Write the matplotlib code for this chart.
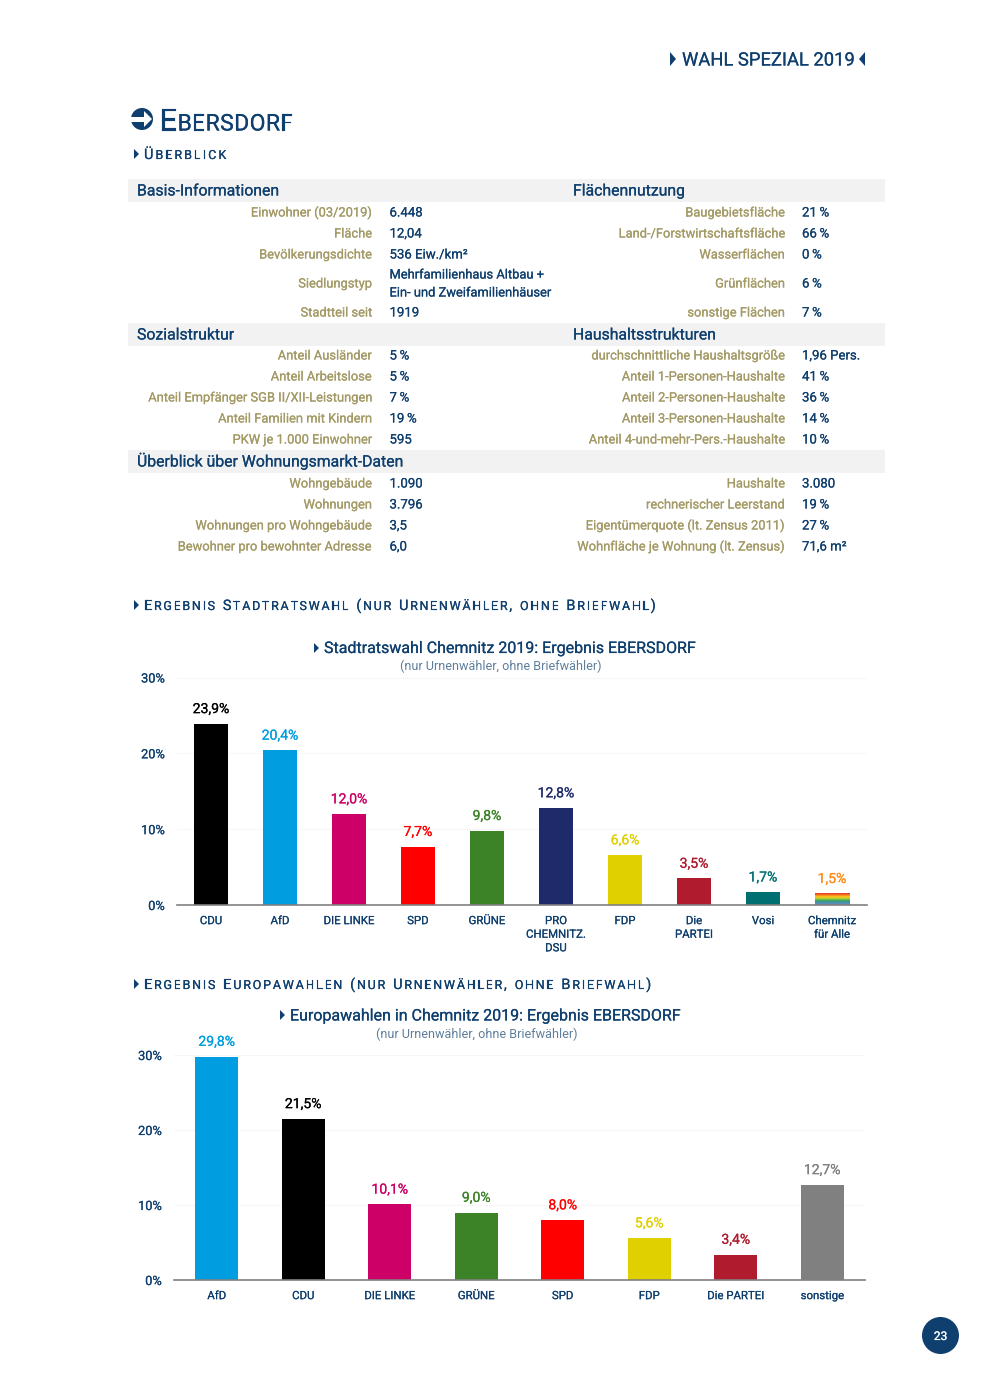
import numpy as np
import matplotlib
matplotlib.use("Agg")
import matplotlib.pyplot as plt
import matplotlib.patheffects as pe
from matplotlib.colors import LinearSegmentedColormap
from matplotlib.patches import Polygon, Circle, Rectangle

plt.rcParams['font.family'] = ['Roboto', 'DejaVu Sans']

NAVY = '#0f3f6e'
TAN = '#a39a66'
BAND = '#f2f2f2'
STROKE = 0.12

# --- table data
sec1_head = ('Basis-Informationen', 'Flächennutzung')
sec1_left = [('Einwohner (03/2019)', '6.448'), ('Fläche', '12,04'), ('Bevölkerungsdichte', '536 Eiw./km²'),
             ('Siedlungstyp', 'Mehrfamilienhaus Altbau +\nEin- und Zweifamilienhäuser'), ('Stadtteil seit', '1919')]
sec1_right = [('Baugebietsfläche', '21 %'), ('Land-/Forstwirtschaftsfläche', '66 %'), ('Wasserflächen', '0 %'),
              ('Grünflächen', '6 %'), ('sonstige Flächen', '7 %')]
sec2_head = ('Sozialstruktur', 'Haushaltsstrukturen')
sec2_left = [('Anteil Ausländer', '5 %'), ('Anteil Arbeitslose', '5 %'), ('Anteil Empfänger SGB II/XII-Leistungen', '7 %'),
             ('Anteil Familien mit Kindern', '19 %'), ('PKW je 1.000 Einwohner', '595')]
sec2_right = [('durchschnittliche Haushaltsgröße', '1,96 Pers.'), ('Anteil 1-Personen-Haushalte', '41 %'),
              ('Anteil 2-Personen-Haushalte', '36 %'), ('Anteil 3-Personen-Haushalte', '14 %'),
              ('Anteil 4-und-mehr-Pers.-Haushalte', '10 %')]
sec3_head = ('Überblick über Wohnungsmarkt-Daten', '')
sec3_left = [('Wohngebäude', '1.090'), ('Wohnungen', '3.796'), ('Wohnungen pro Wohngebäude', '3,5'),
             ('Bewohner pro bewohnter Adresse', '6,0')]
sec3_right = [('Haushalte', '3.080'), ('rechnerischer Leerstand', '19 %'), ('Eigentümerquote (lt. Zensus 2011)', '27 %'),
              ('Wohnfläche je Wohnung (lt. Zensus)', '71,6 m²')]

# --- chart data
city_parties = ['CDU', 'AfD', 'DIE LINKE', 'SPD', 'GRÜNE', 'PRO\nCHEMNITZ.\nDSU', 'FDP', 'Die\nPARTEI', 'Vosi', 'Chemnitz\nfür Alle']
city_values = [23.9, 20.4, 12.0, 7.7, 9.8, 12.8, 6.6, 3.5, 1.7, 1.5]
city_colors = ['#000000', '#009ee0', '#cc0066', '#ff0000', '#3c8227', '#1f2a6b', '#e0d000', '#b01c2e', '#006f71', '#ffffff']
city_label_colors = ['#000000', '#009ee0', '#cc0066', '#ff0000', '#3c8227', '#1f2a6b', '#e0d000', '#b01c2e', '#006f71', '#ff8c1a']
rainbow = ['#e8312a', '#f58220', '#fdd017', '#8cc63f', '#2f9e6e', '#4f8fc0', '#6f7fa8']

eu_parties = ['AfD', 'CDU', 'DIE LINKE', 'GRÜNE', 'SPD', 'FDP', 'Die PARTEI', 'sonstige']
eu_values = [29.8, 21.5, 10.1, 9.0, 8.0, 5.6, 3.4, 12.7]
eu_colors = ['#009ee0', '#000000', '#cc0066', '#3c8227', '#ff0000', '#e0d000', '#b01c2e', '#808080']

yticks = [0, 10, 20, 30]

W, H = 990, 1389
fig = plt.figure(figsize=(W / 100, H / 100), dpi=100, facecolor='white')
page = fig.add_axes([0, 0, 1, 1], zorder=5)
page.set_xlim(0, W); page.set_ylim(H, 0); page.axis('off'); page.patch.set_alpha(0)
px = lambda p: p * 0.72


def heavy(t, w=STROKE):
    t.set_path_effects([pe.withStroke(linewidth=w, foreground=t.get_color())])
    return t


def T(x, y, s, size=12.5, c=NAVY, ha='left', w=STROKE, **k):
    """Text placed on its baseline, so rows stay level whatever the descenders."""
    t = page.text(x, y, s.replace(' %', '\u2009%'), fontsize=px(size), color=c, ha=ha, va='baseline', **k)
    return heavy(t, w) if w else t


def tri(x, y, h=6.5, w=6, c=NAVY, left=False):
    d = -w if left else w
    page.add_patch(Polygon([(x, y - h), (x + d, y), (x, y + h)], closed=True, fc=c, ec='none'))


def caps(x, y, s, big, small, sp, c=NAVY):
    """Small caps with letter spacing, laid out from measured glyph widths."""
    r = fig.canvas.get_renderer()
    for ch in s:
        lo = ch.islower()
        t = page.text(x, y, ch.upper(), fontsize=px(small if lo else big), color=c, ha='left', va='baseline')
        heavy(t)
        adv = t.get_window_extent(r).width if ch != ' ' else big * 0.3
        x += adv + sp
    return x


# header
tri(670, 59, 7, 6)
T(682, 65.5, 'WAHL SPEZIAL 2019', 18.4)
tri(865, 59, 7, 6, left=True)

# section title
page.add_patch(Circle((142, 119), 11, fc=NAVY, ec='none'))
page.add_patch(Rectangle((128, 116.5), 18, 5, fc='white', ec='none'))
page.add_patch(Polygon([(144, 111), (152, 119), (144, 127)], closed=True, fc='white', ec='none'))
caps(160, 130.5, 'Ebersdorf', 30, 23, 0.4)

tri(134, 154, 5, 5)
caps(144, 159, 'Überblick', 14.5, 12.5, 2.1)

# table bands
for y0, y1 in [(179, 202), (323, 346), (450, 473)]:
    page.add_patch(Rectangle((128, y0), 757, y1 - y0, fc=BAND, ec='none'))

for y, (a, b) in [(195.5, sec1_head), (339.5, sec2_head), (466.5, sec3_head)]:
    T(137, y, a, 15.8)
    if b:
        T(573, y, b, 15.8)

rows1 = [212, 233, 254, 283, 312]
rows2 = [355, 376, 397, 418, 439]
rows3 = [483, 504, 525, 546]
for rows, L, R in [(rows1, sec1_left, sec1_right), (rows2, sec2_left, sec2_right), (rows3, sec3_left, sec3_right)]:
    for y, (la, va_), (lb, vb) in zip(rows, L, R):
        T(372, y + 4.5, la, 12.9, TAN, ha='right')
        if '\n' in va_:
            for i, line in enumerate(va_.split('\n')):
                T(389.5, y - 4.5 + 18 * i, line, 12.9)
        else:
            T(389.5, y + 4.5, va_, 13.2)
        T(785, y + 4.5, lb, 12.9, TAN, ha='right')
        T(802, y + 4.5, vb, 13.2)

# chart section titles
tri(134, 605, 5, 5)
caps(144, 610, 'Ergebnis Stadtratswahl (nur Urnenwähler, ohne Briefwahl)', 14.5, 12.5, 1.75)
tri(134, 984, 5, 5)
caps(144, 989, 'Ergebnis Europawahlen (nur Urnenwähler, ohne Briefwahl)', 14.5, 12.5, 1.8)

tri(314, 648, 5, 5)
T(324, 653, 'Stadtratswahl Chemnitz 2019: Ergebnis EBERSDORF', 16)
T(501, 670.5, '(nur Urnenwähler, ohne Briefwähler)', 12.6, '#5f7f9c', ha='center', w=0)
tri(280, 1015, 5, 5)
T(290, 1020.5, 'Europawahlen in Chemnitz 2019: Ergebnis EBERSDORF', 16)
T(476.5, 1038, '(nur Urnenwähler, ohne Briefwähler)', 12.6, '#5f7f9c', ha='center', w=0)


def chart(x0, x1, ytop, ybot, cats, vals, cols, lab_cols, width_frac, lab_size, val_size, tick_pad_y):
    ax = fig.add_axes([x0 / W, 1 - ybot / H, (x1 - x0) / W, (ybot - ytop) / H])
    xs = np.arange(len(cats))
    bars = ax.bar(xs, vals, width=width_frac, color=cols, zorder=3)
    ax.set_xlim(-0.5, len(cats) - 0.5)
    ax.set_ylim(0, 30)
    ax.set_yticks(yticks)
    ax.set_yticklabels([f'{v}%' for v in yticks], fontsize=px(12.8), color=NAVY)
    ax.set_xticks(xs)
    ax.set_xticklabels(cats, fontsize=px(lab_size), color=NAVY, linespacing=1.45)
    for t in list(ax.get_xticklabels()) + list(ax.get_yticklabels()):
        heavy(t)
    ax.tick_params(axis='both', length=0)
    ax.tick_params(axis='x', pad=tick_pad_y)
    ax.tick_params(axis='y', pad=8.5)
    ax.grid(axis='y', color='#efefef', lw=0.7, ls=(0, (1, 1)), zorder=0)
    for s in ('top', 'right', 'left'):
        ax.spines[s].set_visible(False)
    ax.spines['bottom'].set_color('#808080')
    ax.spines['bottom'].set_linewidth(1.2)
    ax.spines['bottom'].set_zorder(5)
    for xv, v, lc in zip(xs, vals, lab_cols):
        a = ax.annotate(f'{v:.1f}%'.replace('.', ','), (xv, v), xytext=(0, 5.5), textcoords='offset points',
                        ha='center', va='bottom', fontsize=px(val_size), color=lc, annotation_clip=False)
        heavy(a)
    return ax, bars


ax1, bars1 = chart(176.5, 866.5, 677.5, 905, city_parties, city_values, city_colors, city_label_colors, 0.507, 11.4, 14, 8)
ax2, bars2 = chart(173.5, 865.5, 1055, 1280, eu_parties, eu_values, eu_colors, eu_colors, 0.5, 11.4, 14, 8)

# rainbow fill of the last city bar
b = bars1[-1]
cmap = LinearSegmentedColormap.from_list('rb', rainbow)
im = ax1.imshow(np.linspace(0, 1, 64).reshape(-1, 1), cmap=cmap, aspect='auto', origin='upper', zorder=4,
                extent=(b.get_x(), b.get_x() + b.get_width(), 0, b.get_height()))
ax1.set_xlim(-0.5, len(city_parties) - 0.5); ax1.set_ylim(0, 30)

# page number
page.add_patch(Circle((940.5, 1335.5), 18.5, fc=NAVY, ec='none'))
T(940.5, 1340, '23', 12, 'white', ha='center')

fig.savefig('out.png', dpi=100, facecolor='white')
